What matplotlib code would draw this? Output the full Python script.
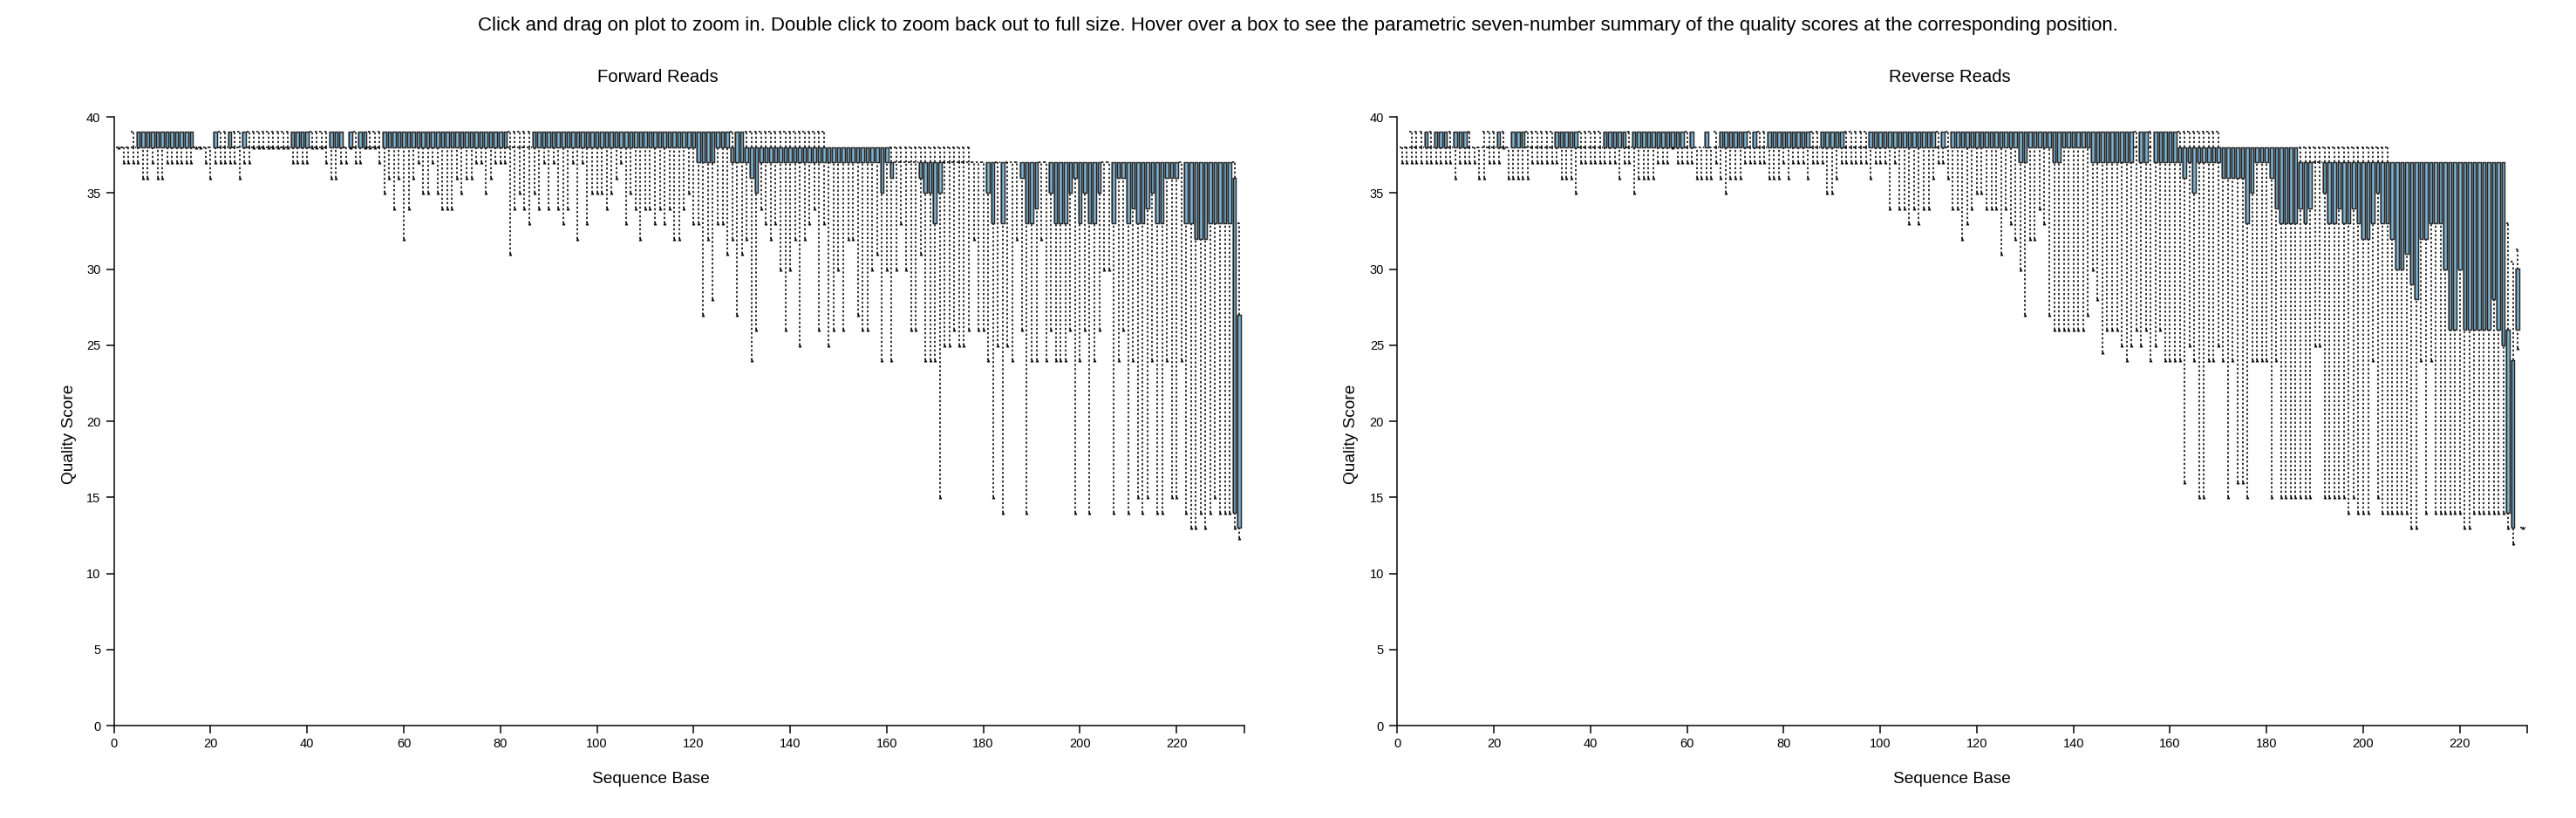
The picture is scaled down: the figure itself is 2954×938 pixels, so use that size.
import numpy as np
import matplotlib
matplotlib.use("Agg")
import matplotlib.pyplot as plt
from matplotlib.collections import LineCollection

plt.rcParams['font.family'] = ['Liberation Sans', 'DejaVu Sans']

# quality summaries per sequence base (1..233)
fwd_q1 = [
    38, 38, 38, 38, 38, 38, 38, 38, 38, 38, 38, 38, 38, 38, 38, 38, 38, 38, 38, 38,
    38, 38, 38, 38, 38, 38, 38, 38, 38, 38, 38, 38, 38, 38, 38, 38, 38, 38, 38, 38,
    38, 38, 38, 38, 38, 38, 38, 38, 38, 38, 38, 38, 38, 38, 38, 38, 38, 38, 38, 38,
    38, 38, 38, 38, 38, 38, 38, 38, 38, 38, 38, 38, 38, 38, 38, 38, 38, 38, 38, 38,
    38, 38, 38, 38, 38, 38, 38, 38, 38, 38, 38, 38, 38, 38, 38, 38, 38, 38, 38, 38,
    38, 38, 38, 38, 38, 38, 38, 38, 38, 38, 38, 38, 38, 38, 38, 38, 38, 38, 38, 38,
    37, 37, 37, 37, 38, 38, 38, 37, 37, 37, 37, 36, 35, 37, 37, 37, 37, 37, 37, 37,
    37, 37, 37, 37, 37, 37, 37, 37, 37, 37, 37, 37, 37, 37, 37, 37, 37, 37, 35, 37,
    36, 37, 37, 37, 37, 37, 36, 35, 35, 33, 35, 37, 37, 37, 37, 37, 37, 37, 37, 37,
    35, 33, 37, 33, 37, 37, 37, 36, 33, 33, 34, 37, 37, 35, 33, 33, 33, 35, 36, 33,
    35, 33, 33, 35, 37, 37, 33, 36, 36, 33, 34, 33, 33, 34, 35, 33, 33, 36, 36, 36,
    37, 33, 33, 32, 32, 32, 33, 33, 33, 33, 33, 14, 13,
]
fwd_q3 = [
    38, 38, 38, 38, 39, 39, 39, 39, 39, 39, 39, 39, 39, 39, 39, 39, 38, 38, 38, 38,
    39, 38, 38, 39, 38, 38, 39, 38, 38, 38, 38, 38, 38, 38, 38, 38, 39, 39, 39, 39,
    38, 38, 38, 38, 39, 39, 39, 38, 39, 38, 39, 39, 38, 38, 38, 39, 39, 39, 39, 39,
    39, 39, 39, 39, 39, 39, 39, 39, 39, 39, 39, 39, 39, 39, 39, 39, 39, 39, 39, 39,
    39, 38, 38, 38, 38, 38, 39, 39, 39, 39, 39, 39, 39, 39, 39, 39, 39, 39, 39, 39,
    39, 39, 39, 39, 39, 39, 39, 39, 39, 39, 39, 39, 39, 39, 39, 39, 39, 39, 39, 39,
    39, 39, 39, 39, 39, 39, 39, 38, 39, 39, 38, 38, 38, 38, 38, 38, 38, 38, 38, 38,
    38, 38, 38, 38, 38, 38, 38, 38, 38, 38, 38, 38, 38, 38, 38, 38, 38, 38, 38, 38,
    37, 37, 37, 37, 37, 37, 37, 37, 37, 37, 37, 37, 37, 37, 37, 37, 37, 37, 37, 37,
    37, 37, 37, 37, 37, 37, 37, 37, 37, 37, 37, 37, 37, 37, 37, 37, 37, 37, 37, 37,
    37, 37, 37, 37, 37, 37, 37, 37, 37, 37, 37, 37, 37, 37, 37, 37, 37, 37, 37, 37,
    37, 37, 37, 37, 37, 37, 37, 37, 37, 37, 37, 36, 27,
]
fwd_lo = [
    38, 37, 37, 37, 37, 36, 36, 37, 36, 36, 37, 37, 37, 37, 37, 37, 38, 38, 37, 36,
    37, 37, 37, 37, 37, 36, 37, 37, 38, 38, 38, 38, 38, 38, 38, 38, 37, 37, 37, 37,
    38, 38, 38, 37, 36, 36, 37, 37, 38, 37, 37, 38, 38, 38, 37, 35, 36, 34, 36, 32,
    34, 36, 37, 35, 35, 37, 35, 34, 34, 34, 36, 35, 36, 36, 37, 37, 35, 36, 37, 37,
    37, 31, 34, 35, 34, 33, 35, 34, 37, 34, 37, 34, 33, 34, 37, 32, 37, 33, 35, 35,
    35, 34, 35, 36, 37, 33, 35, 34, 32, 34, 34, 33, 34, 33, 34, 32, 32, 34, 35, 33,
    33, 27, 32, 28, 33, 33, 31, 32, 27, 31, 32, 24, 26, 34, 33, 32, 33, 30, 26, 30,
    32, 25, 32, 33, 34, 26, 33, 25, 26, 30, 26, 32, 32, 27, 26, 26, 30, 31, 24, 30,
    24, 30, 33, 30, 26, 26, 31, 24, 24, 24, 15, 25, 25, 26, 25, 25, 26, 32, 26, 26,
    24, 15, 25, 14, 25, 24, 32, 26, 14, 24, 24, 32, 24, 26, 24, 24, 24, 26, 14, 24,
    26, 14, 24, 26, 30, 30, 14, 24, 26, 14, 24, 15, 14, 15, 24, 14, 14, 24, 15, 15,
    24, 14, 13, 13, 14, 13, 14, 15, 14, 14, 14, 13, 12.3,
]
fwd_hi = [
    38, 38, 38, 39, 39, 39, 39, 39, 39, 39, 39, 39, 39, 39, 39, 39, 38, 38, 38, 38,
    39, 39, 39, 39, 39, 39, 39, 39, 39, 39, 39, 39, 39, 39, 39, 39, 39, 39, 39, 39,
    39, 39, 39, 39, 39, 39, 39, 38, 39, 39, 39, 39, 39, 39, 39, 39, 39, 39, 39, 39,
    39, 39, 39, 39, 39, 39, 39, 39, 39, 39, 39, 39, 39, 39, 39, 39, 39, 39, 39, 39,
    39, 39, 39, 39, 39, 39, 39, 39, 39, 39, 39, 39, 39, 39, 39, 39, 39, 39, 39, 39,
    39, 39, 39, 39, 39, 39, 39, 39, 39, 39, 39, 39, 39, 39, 39, 39, 39, 39, 39, 39,
    39, 39, 39, 39, 39, 39, 39, 39, 39, 39, 39, 39, 39, 39, 39, 39, 39, 39, 39, 39,
    39, 39, 39, 39, 39, 39, 39, 38, 38, 38, 38, 38, 38, 38, 38, 38, 38, 38, 38, 38,
    38, 38, 38, 38, 38, 38, 38, 38, 38, 38, 38, 38, 38, 38, 38, 38, 38, 37, 37, 37,
    37, 37, 37, 37, 37, 37, 37, 37, 37, 37, 37, 37, 37, 37, 37, 37, 37, 37, 37, 37,
    37, 37, 37, 37, 37, 37, 37, 37, 37, 37, 37, 37, 37, 37, 37, 37, 37, 37, 37, 37,
    37, 37, 37, 37, 37, 37, 37, 37, 37, 37, 37, 37, 33,
]

rev_q1 = [
    38, 38, 38, 38, 38, 38, 38, 38, 38, 38, 38, 38, 38, 38, 38, 38, 38, 38, 38, 38,
    38, 38, 38, 38, 38, 38, 38, 38, 38, 38, 38, 38, 38, 38, 38, 38, 38, 38, 38, 38,
    38, 38, 38, 38, 38, 38, 38, 38, 38, 38, 38, 38, 38, 38, 38, 38, 38, 38, 38, 38,
    38, 38, 38, 38, 38, 38, 38, 38, 38, 38, 38, 38, 38, 38, 38, 38, 38, 38, 38, 38,
    38, 38, 38, 38, 38, 38, 38, 38, 38, 38, 38, 38, 38, 38, 38, 38, 38, 38, 38, 38,
    38, 38, 38, 38, 38, 38, 38, 38, 38, 38, 38, 38, 38, 38, 38, 38, 38, 38, 38, 38,
    38, 38, 38, 38, 38, 38, 38, 38, 37, 37, 38, 38, 38, 38, 38, 37, 37, 38, 38, 38,
    38, 38, 38, 37, 37, 37, 37, 37, 37, 37, 37, 37, 38, 37, 37, 38, 37, 37, 37, 37,
    37, 37, 36, 37, 35, 37, 37, 37, 37, 37, 36, 36, 36, 36, 36, 33, 35, 37, 37, 37,
    36, 34, 33, 33, 33, 33, 34, 33, 34, 37, 37, 35, 33, 33, 34, 33, 33, 34, 33, 32,
    32, 33, 35, 33, 33, 32, 30, 30, 31, 29, 28, 32, 32, 33, 33, 33, 30, 26, 26, 30,
    26, 26, 26, 26, 26, 26, 28, 26, 25, 14, 13, 26, 13,
]
rev_q3 = [
    38, 38, 38, 38, 38, 39, 38, 39, 39, 39, 38, 39, 39, 39, 38, 38, 38, 38, 38, 38,
    39, 38, 38, 39, 39, 39, 38, 38, 38, 38, 38, 38, 39, 39, 39, 39, 39, 38, 38, 38,
    38, 38, 39, 39, 39, 39, 39, 38, 39, 39, 39, 39, 39, 39, 39, 39, 39, 39, 39, 38,
    39, 38, 38, 39, 38, 38, 39, 39, 39, 39, 39, 39, 38, 39, 38, 38, 39, 39, 39, 39,
    39, 39, 39, 39, 39, 38, 38, 39, 39, 39, 39, 39, 38, 38, 38, 38, 38, 39, 39, 39,
    39, 39, 39, 39, 39, 39, 39, 39, 39, 39, 39, 38, 39, 38, 39, 39, 39, 39, 39, 39,
    39, 39, 39, 39, 39, 39, 39, 39, 39, 39, 39, 39, 39, 39, 39, 39, 39, 39, 39, 39,
    39, 39, 39, 39, 39, 39, 39, 39, 39, 39, 39, 39, 38, 39, 39, 38, 39, 39, 39, 39,
    39, 38, 38, 38, 38, 38, 38, 38, 38, 38, 38, 38, 38, 38, 38, 38, 38, 38, 38, 38,
    38, 38, 38, 38, 38, 38, 37, 37, 37, 37, 37, 37, 37, 37, 37, 37, 37, 37, 37, 37,
    37, 37, 37, 37, 37, 37, 37, 37, 37, 37, 37, 37, 37, 37, 37, 37, 37, 37, 37, 37,
    37, 37, 37, 37, 37, 37, 37, 37, 37, 26, 24, 30, 13,
]
rev_lo = [
    37, 37, 37, 37, 37, 37, 37, 37, 37, 37, 37, 36, 37, 37, 37, 37, 36, 36, 37, 37,
    37, 38, 36, 36, 36, 36, 36, 37, 37, 37, 37, 37, 37, 36, 36, 36, 35, 37, 37, 37,
    37, 37, 37, 37, 37, 36, 37, 37, 35, 36, 36, 36, 36, 37, 37, 37, 38, 37, 37, 37,
    37, 36, 36, 36, 36, 37, 36, 35, 36, 36, 36, 37, 37, 37, 37, 37, 36, 36, 36, 37,
    36, 37, 37, 37, 36, 37, 37, 37, 35, 35, 36, 37, 37, 37, 37, 37, 37, 36, 37, 37,
    37, 34, 37, 34, 34, 33, 34, 33, 34, 34, 36, 37, 37, 36, 34, 34, 32, 33, 34, 35,
    35, 34, 34, 34, 31, 34, 33, 32, 30, 27, 32, 32, 34, 33, 27, 26, 26, 26, 26, 26,
    26, 26, 27, 30, 28, 24.5, 26, 26, 26, 25, 24, 25, 26, 25, 26, 24, 25, 26, 24, 24,
    24, 24, 16, 25, 24, 15, 15, 24, 24, 25, 24, 15, 24, 16, 16, 15, 24, 24, 24, 24,
    15, 24, 15, 15, 15, 15, 15, 15, 15, 25, 25, 15, 15, 15, 15, 15, 14, 15, 14, 14,
    14, 24, 15, 14, 14, 14, 14, 14, 14, 13, 13, 24, 14, 24, 14, 14, 14, 14, 14, 14,
    13, 13, 14, 14, 14, 14, 14, 14, 14, 13, 12, 24.8, 13,
]
rev_hi = [
    38, 38, 39, 39, 39, 39, 39, 39, 39, 39, 39, 39, 39, 39, 39, 38, 38, 39, 39, 39,
    39, 39, 38, 39, 39, 39, 39, 39, 39, 39, 39, 39, 39, 39, 39, 39, 39, 39, 39, 39,
    39, 39, 39, 39, 39, 39, 39, 39, 39, 39, 39, 39, 39, 39, 39, 39, 39, 39, 39, 39,
    39, 38, 38, 39, 38, 39, 39, 39, 39, 39, 39, 39, 39, 39, 39, 39, 39, 39, 39, 39,
    39, 39, 39, 39, 39, 39, 39, 39, 39, 39, 39, 39, 39, 39, 39, 39, 39, 39, 39, 39,
    39, 39, 39, 39, 39, 39, 39, 39, 39, 39, 39, 39, 39, 39, 39, 39, 39, 39, 39, 39,
    39, 39, 39, 39, 39, 39, 39, 39, 39, 39, 39, 39, 39, 39, 39, 39, 39, 39, 39, 39,
    39, 39, 39, 39, 39, 39, 39, 39, 39, 39, 39, 39, 39, 39, 39, 39, 39, 39, 39, 39,
    39, 39, 39, 39, 39, 39, 39, 39, 39, 39, 38, 38, 38, 38, 38, 38, 38, 38, 38, 38,
    38, 38, 38, 38, 38, 38, 38, 38, 38, 38, 38, 38, 38, 38, 38, 38, 38, 38, 38, 38,
    38, 38, 38, 38, 38, 37, 37, 37, 37, 37, 37, 37, 37, 37, 37, 37, 37, 37, 37, 37,
    37, 37, 37, 37, 37, 37, 37, 37, 37, 33, 30.5, 31.3, 13,
]

x_ticks = [0, 20, 40, 60, 80, 100, 120, 140, 160, 180, 200, 220]
y_ticks = [0, 5, 10, 15, 20, 25, 30, 35, 40]
caption = ("Click and drag on plot to zoom in. Double click to zoom back out to full size. "
           "Hover over a box to see the parametric seven-number summary of the quality "
           "scores at the corresponding position.")

W, H = 2954, 938
DOT = (0, (1.5, 1.6))


def draw_panel(ax, q1, q3, lo, hi):
    q1, q3, lo, hi = map(np.asarray, (q1, q3, lo, hi))
    pos = np.arange(1, len(q1) + 1)

    # dotted whiskers below and above each box
    segs = []
    for p, a, b, c, d in zip(pos, lo, q1, q3, hi):
        if b > a:
            segs.append([(p, a), (p, b)])
        if d > c:
            segs.append([(p, c), (p, d)])
    ax.add_collection(LineCollection(segs, colors='black', linewidths=1.15,
                                     linestyles=[DOT], zorder=1))

    # top caps, and flat boxes drawn as a dotted bar
    caps = [[(p - 0.45, h), (p + 0.45, h)] for p, h, c in zip(pos, hi, q3) if h > c]
    flat = q1 == q3
    caps += [[(p - 0.5, v), (p + 0.5, v)] for p, v in zip(pos[flat], q1[flat])]
    ax.add_collection(LineCollection(caps, colors='black', linewidths=1.15,
                                     linestyles=[DOT], zorder=1))

    box = ~flat
    ax.bar(pos[box], (q3 - q1)[box], bottom=q1[box], width=1.0,
           color='#9c9c9c', linewidth=0, zorder=2)
    ax.bar(pos[box], (q3 - q1)[box], bottom=q1[box], width=0.64,
           facecolor='#7db4d6', edgecolor='#262626', linewidth=1.05, zorder=3)
    ax.plot(pos, lo, linestyle='none', marker='^', markersize=2.8,
            color='black', markeredgewidth=0, zorder=4)

    ax.set_xlim(0, 234)
    ax.set_ylim(0, 40)
    ax.set_xticks(x_ticks)
    ax.set_yticks(y_ticks)
    ax.set_xticks([234], minor=True)
    ax.tick_params(which='both', length=6.5, width=1.08, direction='out',
                   labelsize=10.5, color='black')
    ax.tick_params(axis='x', pad=3.5)
    ax.tick_params(axis='y', pad=4.5)
    for s in ('top', 'right'):
        ax.spines[s].set_visible(False)
    for s in ('left', 'bottom'):
        ax.spines[s].set_linewidth(1.08)


fig = plt.figure(figsize=(W / 100, H / 100), dpi=100)
ax_f = fig.add_axes([130.7 / W, 106 / H, 1296 / W, 698 / H])
ax_r = fig.add_axes([1602.3 / W, 106 / H, 1296 / W, 698 / H])
draw_panel(ax_f, fwd_q1, fwd_q3, fwd_lo, fwd_hi)
draw_panel(ax_r, rev_q1, rev_q3, rev_lo, rev_hi)

fig.text(0.504, 1 - 29 / H, caption, ha='center', va='center', fontsize=16)
for xc, title in ((754.7, "Forward Reads"), (2236, "Reverse Reads")):
    fig.text(xc / W, 1 - 89 / H, title, ha='center', va='center', fontsize=14.6)
for xc in (746, 2238):
    fig.text(xc / W, 1 - 893 / H, "Sequence Base", ha='center', va='center', fontsize=13.8)
for xc in (79, 1550):
    fig.text(xc / W, 1 - 498 / H, "Quality Score", ha='center', va='center',
             rotation=90, fontsize=13.8)

fig.savefig("out.png", dpi=100)
